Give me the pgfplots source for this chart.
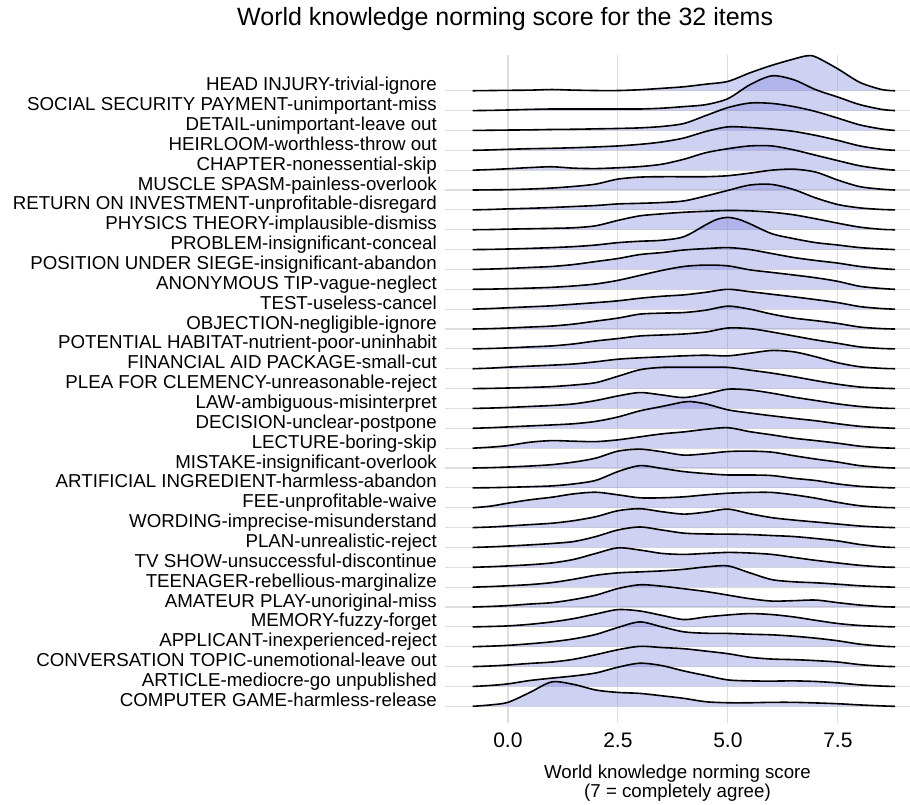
\documentclass[border=0pt]{standalone}
\usepackage{fontspec}
\setmainfont{Liberation Sans}
\usepackage{pgfplots}
\pgfplotsset{compat=1.18}
\usepackage{pgfplotstable}

\definecolor{ridgefill}{RGB}{122,128,220}
\definecolor{gridc}{RGB}{222,222,222}

% density heights, in row units
\pgfplotstableread[row sep=\\]{x h\\-0.8 0\\-0.4 0.01\\0 0.02\\0.5 0.03\\1 0.06\\1.5 0.03\\2 0.01\\2.5 0.01\\3 0.05\\3.5 0.12\\4 0.2\\4.5 0.33\\5 0.47\\5.5 0.9\\6 1.28\\6.5 1.6\\6.8 1.76\\7 1.7\\7.5 1.1\\8 0.42\\8.5 0.06\\8.8 0\\}\tHead
\pgfplotstableread[row sep=\\]{x h\\-0.8 0\\-0.4 0.01\\0 0.03\\0.5 0.06\\1 0.08\\1.5 0.08\\2 0.08\\2.5 0.08\\3 0.08\\3.5 0.12\\4 0.2\\4.5 0.3\\5 0.6\\5.5 1.3\\6 1.75\\6.5 1.55\\7 1.05\\7.5 0.68\\8 0.3\\8.5 0.06\\8.8 0\\}\tSocial
\pgfplotstableread[row sep=\\]{x h\\-0.8 0\\-0.4 0.01\\0 0.02\\0.5 0.03\\1 0.05\\1.5 0.06\\2 0.08\\2.5 0.1\\3 0.13\\3.5 0.2\\4 0.35\\4.5 0.75\\5 1.15\\5.5 1.38\\6 1.36\\6.5 1.2\\7 0.95\\7.5 0.62\\8 0.28\\8.5 0.07\\8.8 0\\}\tDetail
\pgfplotstableread[row sep=\\]{x h\\-0.8 0\\-0.4 0.02\\0 0.05\\0.5 0.08\\1 0.1\\1.5 0.13\\2 0.17\\2.5 0.22\\3 0.3\\3.5 0.42\\4 0.62\\4.5 0.95\\5 1.18\\5.5 1.15\\6 1.07\\6.5 0.95\\7 0.75\\7.5 0.5\\8 0.22\\8.5 0.05\\8.8 0\\}\tHeirloom
\pgfplotstableread[row sep=\\]{x h\\-0.8 0\\-0.4 0.03\\0 0.07\\0.5 0.13\\1 0.17\\1.5 0.1\\2 0.08\\2.5 0.12\\3 0.18\\3.5 0.3\\4 0.55\\4.5 0.88\\5 1.08\\5.5 1.22\\6 1.22\\6.5 1.02\\7 0.75\\7.5 0.48\\8 0.22\\8.5 0.06\\8.8 0\\}\tChapter
\pgfplotstableread[row sep=\\]{x h\\-0.8 0\\-0.4 0.01\\0 0.02\\0.5 0.05\\1 0.1\\1.5 0.18\\2 0.3\\2.5 0.55\\3 0.65\\3.5 0.67\\4 0.67\\4.5 0.67\\5 0.72\\5.5 0.85\\6 1.0\\6.5 1.05\\7 0.9\\7.5 0.5\\8 0.17\\8.5 0.04\\8.8 0\\}\tMuscle
\pgfplotstableread[row sep=\\]{x h\\-0.8 0\\-0.4 0.02\\0 0.05\\0.5 0.08\\1 0.12\\1.5 0.17\\2 0.22\\2.5 0.3\\3 0.33\\3.5 0.37\\4 0.45\\4.5 0.7\\5 0.98\\5.5 1.25\\6 1.28\\6.5 1.02\\7 0.6\\7.5 0.27\\8 0.1\\8.5 0.02\\8.8 0\\}\tReturn
\pgfplotstableread[row sep=\\]{x h\\-0.8 0\\-0.4 0.01\\0 0.03\\0.5 0.05\\1 0.07\\1.5 0.1\\2 0.2\\2.5 0.47\\3 0.7\\3.5 0.8\\4 0.88\\4.5 0.93\\5 0.97\\5.5 0.95\\6 0.88\\6.5 0.75\\7 0.55\\7.5 0.33\\8 0.13\\8.5 0.02\\8.8 0\\}\tPhysics
\pgfplotstableread[row sep=\\]{x h\\-0.8 0\\-0.4 0.01\\0 0.03\\0.5 0.06\\1 0.1\\1.5 0.15\\2 0.23\\2.5 0.35\\3 0.42\\3.5 0.47\\4 0.65\\4.5 1.25\\4.75 1.52\\5 1.62\\5.25 1.52\\5.5 1.3\\6 0.8\\6.5 0.55\\7 0.35\\7.5 0.23\\8 0.1\\8.5 0.03\\8.8 0\\}\tProblem
\pgfplotstableread[row sep=\\]{x h\\-0.8 0\\-0.4 0.02\\0 0.05\\0.5 0.1\\1 0.15\\1.5 0.25\\2 0.4\\2.5 0.55\\3 0.75\\3.5 0.85\\4 0.98\\4.5 1.05\\5 1.1\\5.5 1.0\\6 0.8\\6.5 0.6\\7 0.45\\7.5 0.32\\8 0.15\\8.5 0.04\\8.8 0\\}\tPosition
\pgfplotstableread[row sep=\\]{x h\\-0.8 0\\-0.4 0.01\\0 0.03\\0.5 0.06\\1 0.1\\1.5 0.17\\2 0.27\\2.5 0.45\\3 0.7\\3.5 0.95\\4 1.15\\4.5 1.22\\5 1.18\\5.5 0.98\\6 0.85\\6.5 0.72\\7 0.58\\7.5 0.4\\8 0.15\\8.5 0.04\\8.8 0\\}\tAnonymous
\pgfplotstableread[row sep=\\]{x h\\-0.8 0\\-0.4 0.03\\0 0.07\\0.5 0.12\\1 0.17\\1.5 0.25\\2 0.33\\2.5 0.42\\3 0.55\\3.5 0.65\\4 0.72\\4.5 0.85\\5 1.0\\5.5 0.88\\6 0.75\\6.5 0.62\\7 0.48\\7.5 0.33\\8 0.13\\8.5 0.03\\8.8 0\\}\tTest
\pgfplotstableread[row sep=\\]{x h\\-0.8 0\\-0.4 0.02\\0 0.05\\0.5 0.1\\1 0.15\\1.5 0.25\\2 0.4\\2.5 0.55\\3 0.75\\3.5 0.8\\4 0.83\\4.5 0.95\\5 1.15\\5.5 1.0\\6 0.75\\6.5 0.55\\7 0.42\\7.5 0.28\\8 0.1\\8.5 0.02\\8.8 0\\}\tObjection
\pgfplotstableread[row sep=\\]{x h\\-0.8 0\\-0.4 0.02\\0 0.05\\0.5 0.1\\1 0.15\\1.5 0.25\\2 0.4\\2.5 0.52\\3 0.65\\3.5 0.7\\4 0.75\\4.5 0.85\\5 1.05\\5.5 1.02\\6 0.85\\6.5 0.65\\7 0.45\\7.5 0.28\\8 0.1\\8.5 0.02\\8.8 0\\}\tPotential
\pgfplotstableread[row sep=\\]{x h\\-0.8 0\\-0.4 0.03\\0 0.08\\0.5 0.13\\1 0.18\\1.5 0.24\\2 0.35\\2.5 0.48\\3 0.55\\3.5 0.6\\4 0.65\\4.5 0.68\\5 0.65\\5.5 0.78\\6 0.92\\6.5 0.85\\7 0.6\\7.5 0.3\\8 0.1\\8.5 0.02\\8.8 0\\}\tFinancial
\pgfplotstableread[row sep=\\]{x h\\-0.8 0\\-0.4 0.01\\0 0.03\\0.5 0.06\\1 0.1\\1.5 0.18\\2 0.3\\2.5 0.62\\3 0.95\\3.5 1.07\\4 1.08\\4.5 1.08\\5 1.07\\5.5 0.93\\6 0.78\\6.5 0.6\\7 0.4\\7.5 0.22\\8 0.08\\8.5 0.02\\8.8 0\\}\tPlea
\pgfplotstableread[row sep=\\]{x h\\-0.8 0\\-0.4 0.02\\0 0.05\\0.5 0.1\\1 0.15\\1.5 0.23\\2 0.4\\2.5 0.63\\3 0.8\\3.5 0.68\\4 0.55\\4.5 0.73\\5 0.97\\5.5 0.93\\6 0.77\\6.5 0.57\\7 0.4\\7.5 0.23\\8 0.1\\8.5 0.02\\8.8 0\\}\tLaw
\pgfplotstableread[row sep=\\]{x h\\-0.8 0\\-0.4 0.03\\0 0.07\\0.5 0.12\\1 0.17\\1.5 0.23\\2 0.35\\2.5 0.57\\3 0.88\\3.5 1.1\\4 1.33\\4.15 1.35\\4.5 1.23\\5 0.93\\5.5 0.77\\6 0.63\\6.5 0.5\\7 0.38\\7.5 0.23\\8 0.1\\8.5 0.03\\8.8 0\\}\tDecision
\pgfplotstableread[row sep=\\]{x h\\-0.8 0\\-0.4 0.05\\0 0.13\\0.5 0.3\\1 0.38\\1.5 0.35\\2 0.33\\2.5 0.42\\3 0.57\\3.5 0.72\\4 0.82\\4.5 0.95\\5 1.03\\5.5 0.83\\6 0.67\\6.5 0.5\\7 0.38\\7.5 0.25\\8 0.1\\8.5 0.02\\8.8 0\\}\tLecture
\pgfplotstableread[row sep=\\]{x h\\-0.8 0\\-0.4 0.02\\0 0.05\\0.5 0.1\\1 0.17\\1.5 0.3\\2 0.5\\2.5 0.85\\3 0.95\\3.5 0.82\\4 0.65\\4.5 0.72\\5 0.83\\5.5 0.85\\6 0.8\\6.5 0.62\\7 0.45\\7.5 0.3\\8 0.12\\8.5 0.03\\8.8 0\\}\tMistake
\pgfplotstableread[row sep=\\]{x h\\-0.8 0\\-0.4 0.01\\0 0.03\\0.5 0.06\\1 0.1\\1.5 0.2\\2 0.38\\2.5 0.82\\3 1.12\\3.5 0.98\\4 0.82\\4.5 0.72\\5 0.65\\5.5 0.65\\6 0.62\\6.5 0.48\\7 0.37\\7.5 0.2\\8 0.08\\8.5 0.02\\8.8 0\\}\tArtificial
\pgfplotstableread[row sep=\\]{x h\\-0.8 0\\-0.4 0.08\\0 0.23\\0.5 0.4\\1 0.53\\1.5 0.7\\2 0.78\\2.5 0.65\\3 0.5\\3.5 0.5\\4 0.55\\4.5 0.65\\5 0.73\\5.5 0.77\\6 0.77\\6.5 0.65\\7 0.48\\7.5 0.27\\8 0.1\\8.5 0.02\\8.8 0\\}\tFee
\pgfplotstableread[row sep=\\]{x h\\-0.8 0\\-0.4 0.03\\0 0.08\\0.5 0.15\\1 0.22\\1.5 0.35\\2 0.55\\2.5 0.85\\3 0.95\\3.5 0.8\\4 0.68\\4.5 0.78\\5 0.93\\5.5 0.7\\6 0.5\\6.5 0.38\\7 0.28\\7.5 0.18\\8 0.08\\8.5 0.02\\8.8 0\\}\tWording
\pgfplotstableread[row sep=\\]{x h\\-0.8 0\\-0.4 0.03\\0 0.07\\0.5 0.13\\1 0.2\\1.5 0.3\\2 0.55\\2.5 0.88\\3 1.03\\3.5 0.88\\4 0.72\\4.5 0.68\\5 0.67\\5.5 0.65\\6 0.6\\6.5 0.55\\7 0.45\\7.5 0.33\\8 0.15\\8.5 0.03\\8.8 0\\}\tPlan
\pgfplotstableread[row sep=\\]{x h\\-0.8 0\\-0.4 0.03\\0 0.07\\0.5 0.13\\1 0.22\\1.5 0.4\\2 0.7\\2.5 0.98\\3 0.87\\3.5 0.7\\4 0.65\\4.5 0.7\\5 0.75\\5.5 0.72\\6 0.65\\6.5 0.5\\7 0.35\\7.5 0.22\\8 0.1\\8.5 0.02\\8.8 0\\}\tTvshow
\pgfplotstableread[row sep=\\]{x h\\-0.8 0\\-0.4 0.03\\0 0.07\\0.5 0.13\\1 0.23\\1.5 0.4\\2 0.6\\2.5 0.72\\3 0.77\\3.5 0.82\\4 0.9\\4.5 1.02\\5 1.07\\5.5 0.72\\6 0.38\\6.5 0.27\\7 0.22\\7.5 0.15\\8 0.07\\8.5 0.02\\8.8 0\\}\tTeenager
\pgfplotstableread[row sep=\\]{x h\\-0.8 0\\-0.4 0.03\\0 0.07\\0.5 0.15\\1 0.22\\1.5 0.38\\2 0.6\\2.5 0.93\\3 1.12\\3.5 1.05\\4 0.92\\4.5 0.78\\5 0.6\\5.5 0.42\\6 0.3\\6.5 0.32\\7 0.35\\7.5 0.22\\8 0.1\\8.5 0.02\\8.8 0\\}\tAmateur
\pgfplotstableread[row sep=\\]{x h\\-0.8 0\\-0.4 0.02\\0 0.05\\0.5 0.13\\1 0.25\\1.5 0.42\\2 0.65\\2.5 0.87\\3 0.8\\3.5 0.58\\4 0.37\\4.5 0.5\\5 0.6\\5.5 0.67\\6 0.62\\6.5 0.5\\7 0.33\\7.5 0.17\\8 0.07\\8.5 0.02\\8.8 0\\}\tMemory
\pgfplotstableread[row sep=\\]{x h\\-0.8 0\\-0.4 0.03\\0 0.07\\0.5 0.15\\1 0.25\\1.5 0.4\\2 0.62\\2.5 0.97\\3 1.25\\3.5 1.0\\4 0.75\\4.5 0.68\\5 0.67\\5.5 0.63\\6 0.6\\6.5 0.53\\7 0.43\\7.5 0.3\\8 0.13\\8.5 0.03\\8.8 0\\}\tApplicant
\pgfplotstableread[row sep=\\]{x h\\-0.8 0\\-0.4 0.03\\0 0.08\\0.5 0.16\\1 0.23\\1.5 0.37\\2 0.6\\2.5 0.85\\3 1.02\\3.5 0.96\\4 0.9\\4.5 0.78\\5 0.65\\5.5 0.47\\6 0.38\\6.5 0.35\\7 0.3\\7.5 0.23\\8 0.1\\8.5 0.02\\8.8 0\\}\tConversation
\pgfplotstableread[row sep=\\]{x h\\-0.8 0\\-0.4 0.05\\0 0.13\\0.5 0.3\\1 0.42\\1.5 0.53\\2 0.68\\2.5 0.97\\3 1.17\\3.5 1.05\\4 0.78\\4.5 0.55\\5 0.33\\5.5 0.28\\6 0.27\\6.5 0.28\\7 0.25\\7.5 0.18\\8 0.08\\8.5 0.02\\8.8 0\\}\tArticle
\pgfplotstableread[row sep=\\]{x h\\-0.8 0\\-0.4 0.07\\0 0.2\\0.5 0.7\\1 1.23\\1.5 1.1\\2 0.82\\2.5 0.7\\3 0.65\\3.5 0.53\\4 0.4\\4.5 0.23\\5 0.18\\5.5 0.18\\6 0.2\\6.5 0.2\\7 0.17\\7.5 0.13\\8 0.07\\8.5 0.02\\8.8 0\\}\tComputer

% one ridge: filled density, then its outline, lifted to its row
\newcommand{\ridge}[2]{%
  \addplot[draw=none, fill=ridgefill, fill opacity=0.36, smooth, forget plot]
    table[x=x, y expr=\thisrow{h}+#1] {#2};
  \addplot[black, line width=1.6pt, line join=round, smooth, forget plot]
    table[x=x, y expr=\thisrow{h}+#1] {#2};
}

\begin{document}
\begin{tikzpicture}
\begin{axis}[
  at={(445pt,82pt)}, anchor=south west,
  scale only axis, width=465pt, height=668pt,
  xmin=-1.43, xmax=9.14, ymin=-0.84, ymax=32.8,
  axis line style={draw=none},
  major tick length=0pt,
  xtick={0,2.5,5,7.5}, xticklabels={0.0,2.5,5.0,7.5},
  ytick={0,...,31},
  yticklabels={COMPUTER GAME-harmless-release,
    ARTICLE-mediocre-go unpublished,
    CONVERSATION TOPIC-unemotional-leave out,
    APPLICANT-inexperienced-reject,
    MEMORY-fuzzy-forget,
    AMATEUR PLAY-unoriginal-miss,
    TEENAGER-rebellious-marginalize,
    TV SHOW-unsuccessful-discontinue,
    PLAN-unrealistic-reject,
    WORDING-imprecise-misunderstand,
    FEE-unprofitable-waive,
    ARTIFICIAL INGREDIENT-harmless-abandon,
    MISTAKE-insignificant-overlook,
    LECTURE-boring-skip,
    DECISION-unclear-postpone,
    LAW-ambiguous-misinterpret,
    PLEA FOR CLEMENCY-unreasonable-reject,
    FINANCIAL AID PACKAGE-small-cut,
    POTENTIAL HABITAT-nutrient-poor-uninhabit,
    OBJECTION-negligible-ignore,
    TEST-useless-cancel,
    ANONYMOUS TIP-vague-neglect,
    POSITION UNDER SIEGE-insignificant-abandon,
    PROBLEM-insignificant-conceal,
    PHYSICS THEORY-implausible-dismiss,
    RETURN ON INVESTMENT-unprofitable-disregard,
    MUSCLE SPASM-painless-overlook,
    CHAPTER-nonessential-skip,
    HEIRLOOM-worthless-throw out,
    DETAIL-unimportant-leave out,
    SOCIAL SECURITY PAYMENT-unimportant-miss,
    HEAD INJURY-trivial-ignore},
  grid=major,
  major grid style={color=gridc, line width=1.2pt},
  xticklabel style={anchor=base, inner sep=0pt, yshift=-24.5pt,
    font=\fontsize{21}{21}\selectfont},
  yticklabel style={anchor=base east, inner sep=0pt, xshift=-8pt,
    font=\fontsize{18.7}{18.7}\selectfont},
  xlabel={World knowledge norming score\\(7 = completely agree)},
  xlabel style={at={(axis description cs:0.5,0)}, anchor=north,
    align=center, inner sep=0pt, yshift=-42pt,
    font=\fontsize{18.7}{16.5}\selectfont},
]
\ridge{31}{\tHead}
\ridge{30}{\tSocial}
\ridge{29}{\tDetail}
\ridge{28}{\tHeirloom}
\ridge{27}{\tChapter}
\ridge{26}{\tMuscle}
\ridge{25}{\tReturn}
\ridge{24}{\tPhysics}
\ridge{23}{\tProblem}
\ridge{22}{\tPosition}
\ridge{21}{\tAnonymous}
\ridge{20}{\tTest}
\ridge{19}{\tObjection}
\ridge{18}{\tPotential}
\ridge{17}{\tFinancial}
\ridge{16}{\tPlea}
\ridge{15}{\tLaw}
\ridge{14}{\tDecision}
\ridge{13}{\tLecture}
\ridge{12}{\tMistake}
\ridge{11}{\tArtificial}
\ridge{10}{\tFee}
\ridge{9}{\tWording}
\ridge{8}{\tPlan}
\ridge{7}{\tTvshow}
\ridge{6}{\tTeenager}
\ridge{5}{\tAmateur}
\ridge{4}{\tMemory}
\ridge{3}{\tApplicant}
\ridge{2}{\tConversation}
\ridge{1}{\tArticle}
\ridge{0}{\tComputer}
\end{axis}
\node[anchor=base west, inner sep=0pt, font=\fontsize{25}{25}\selectfont]
  at (237pt,779pt) {World knowledge norming score for the 32 items};
\pgfresetboundingbox
\useasboundingbox (0,0) rectangle (910pt,805pt);
\end{tikzpicture}
\end{document}
